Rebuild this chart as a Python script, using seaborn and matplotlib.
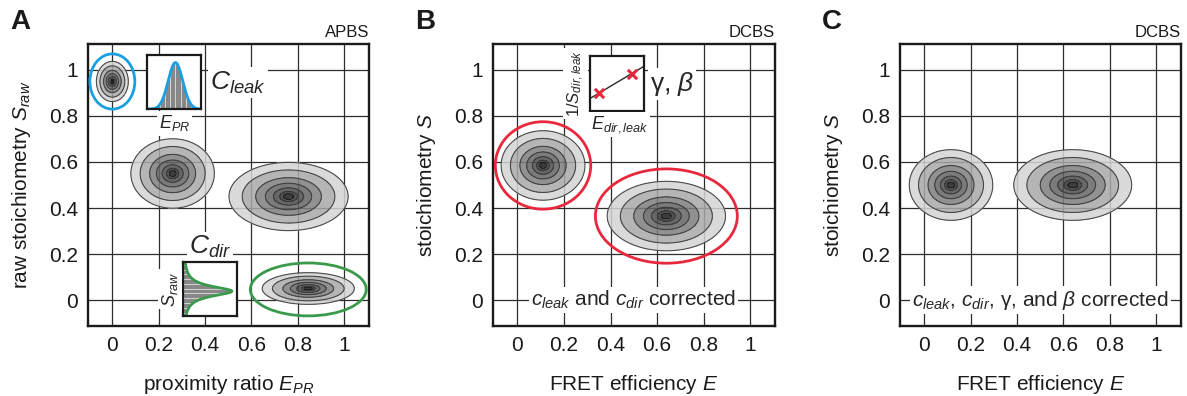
import numpy as np
import matplotlib
matplotlib.use("Agg")
import matplotlib.pyplot as plt
from matplotlib.patches import Ellipse
import seaborn as sns

sns.set_theme(style="white")
plt.rcParams["font.family"] = ["Liberation Sans", "DejaVu Sans"]
plt.rcParams["mathtext.fontset"] = "custom"
plt.rcParams["mathtext.rm"] = "Liberation Sans"
plt.rcParams["mathtext.it"] = "Liberation Sans:italic"
plt.rcParams["mathtext.bf"] = "Liberation Sans:bold"

# ---- populations: centre (E, S) and width (sigma_E, sigma_S) ----
apbs_E = [0.0, 0.26, 0.76, 0.845]
apbs_S = [0.95, 0.55, 0.45, 0.05]
apbs_sE = [0.026, 0.068, 0.097, 0.075]
apbs_sS = [0.033, 0.057, 0.056, 0.026]

dcbs_E = [0.11, 0.64]
dcbs_S = [0.585, 0.365]
dcbs_sE = [0.068, 0.096]
dcbs_sS = [0.057, 0.057]

corr_E = [0.115, 0.64]
corr_S = [0.50, 0.50]
corr_sE = [0.068, 0.096]
corr_sS = [0.058, 0.058]

# highlighted populations (centre and half-axes of the outline)
ringA_E = [0.0, 0.845]
ringA_S = [0.95, 0.046]
ringA_a = [0.097, 0.25]
ringA_b = [0.12, 0.115]
ringA_col = ["#1a9fe0", "#3a9a4c"]

ringB_E = [0.11, 0.64]
ringB_S = [0.585, 0.365]
ringB_a = [0.205, 0.305]
ringB_b = [0.19, 0.205]
ringB_col = ["#e8283c", "#e8283c"]

# gamma/beta calibration points: E_dir,leak vs 1/S_dir,leak
cal_E = [0.17, 0.78]
cal_invS = [0.32, 0.68]

tick_vals = [0, 0.2, 0.4, 0.6, 0.8, 1.0]
tick_text = ["0", "0.2", "0.4", "0.6", "0.8", "1"]

LEVELS = [0.03, 0.12, 0.345, 0.59, 0.80, 0.925, 0.976, 1.01]
SHADES = ["#d4d4d4", "#a8a8a8", "#7e7e7e", "#646464", "#4c4c4c", "#343434", "#1a1a1a"]

TICK_FS = 15
LABEL_FS = 15


def draw_population(ax, e0, s0, se, ss):
    x = np.linspace(e0 - 3.2 * se, e0 + 3.2 * se, 240)
    y = np.linspace(s0 - 3.2 * ss, s0 + 3.2 * ss, 240)
    X, Y = np.meshgrid(x, y)
    Z = np.exp(-0.5 * (((X - e0) / se) ** 2 + ((Y - s0) / ss) ** 2))
    ax.contourf(X, Y, Z, levels=LEVELS, colors=SHADES, alpha=0.85, zorder=3)
    ax.contour(X, Y, Z, levels=LEVELS[:-2], colors="#3b3b3b",
               linewidths=0.8, alpha=0.9, zorder=4)


def style_axes(ax, xlabel, ylabel, tag):
    ax.set_xlim(-0.105, 1.107)
    ax.set_ylim(-0.113, 1.113)
    ax.set_xticks(tick_vals)
    ax.set_xticklabels(tick_text)
    ax.set_yticks(tick_vals)
    ax.set_yticklabels(tick_text)
    ax.tick_params(length=0, pad=7, labelsize=TICK_FS, colors="#1a1a1a")
    ax.grid(True, color="#2e2e2e", lw=0.9)
    ax.set_axisbelow(True)
    for sp in ax.spines.values():
        sp.set_visible(True)
        sp.set_color("#1a1a1a")
        sp.set_linewidth(1.7)
    ax.set_xlabel(xlabel, fontsize=LABEL_FS, color="#1a1a1a")
    ax.set_ylabel(ylabel, fontsize=LABEL_FS, color="#1a1a1a")
    ax.xaxis.set_label_coords(0.5, -0.165)
    ax.yaxis.set_label_coords(-0.195, 0.5)
    ax.text(1.0, 1.015, tag, transform=ax.transAxes, ha="right", va="bottom",
            fontsize=12, color="#1a1a1a")


def frame_inset(ins):
    ins.set_xlim(0, 1)
    ins.set_ylim(0, 1)
    ins.set_xticks([])
    ins.set_yticks([])
    ins.set_facecolor("white")
    for sp in ins.spines.values():
        sp.set_visible(True)
        sp.set_color("#1a1a1a")
        sp.set_linewidth(1.6)


WHITE = dict(facecolor="white", edgecolor="none", pad=1.5)

fig = plt.figure(figsize=(11.87, 3.96), dpi=100)
W, H = 1187, 396
axA = fig.add_axes([88 / W, 70 / H, 281 / W, 282 / H])
axB = fig.add_axes([493 / W, 70 / H, 282 / W, 282 / H])
axC = fig.add_axes([900 / W, 70 / H, 281 / W, 282 / H])

# ---------------- panel A ----------------
style_axes(axA, "proximity ratio $E_{PR}$", "raw stoichiometry $S_{raw}$", "APBS")
for e, s, se, ss in zip(apbs_E, apbs_S, apbs_sE, apbs_sS):
    draw_population(axA, e, s, se, ss)
for e, s, a, b, c in zip(ringA_E, ringA_S, ringA_a, ringA_b, ringA_col):
    axA.add_patch(Ellipse((e, s), 2 * a, 2 * b, fill=False, ec=c, lw=2.0, zorder=5))

# leakage inset: E_PR histogram of the donor-only population
insA1 = axA.inset_axes([0.151, 0.83, 0.233, 0.235], transform=axA.transData, zorder=6)
frame_inset(insA1)
xc = np.linspace(0.0, 1.0, 200)
yc = 0.86 * np.exp(-0.5 * ((xc - 0.52) / 0.135) ** 2)
insA1.fill_between(xc, 0, yc, color="#d2d2d2", lw=0)
xb = np.linspace(0.04, 0.98, 42)
insA1.vlines(xb, 0, 0.86 * np.exp(-0.5 * ((xb - 0.52) / 0.135) ** 2),
             color="#7a7a7a", lw=0.6)
sns.lineplot(x=xc, y=yc, ax=insA1, color="#1a9fe0", lw=2.0)
insA1.set_xlim(0, 1)
insA1.set_ylim(0, 1)
insA1.text(0.5, -0.08, "$E_{PR}$", transform=insA1.transAxes, ha="center",
           va="top", fontsize=13, bbox=WHITE)
axA.text(0.54, 0.945, "$C_{leak}$", ha="center", va="center", fontsize=19,
         bbox=WHITE, zorder=6)

# direct-excitation inset: S_raw histogram of the acceptor-only population
insA2 = axA.inset_axes([0.306, -0.07, 0.233, 0.235], transform=axA.transData, zorder=6)
frame_inset(insA2)
ys = np.linspace(0.0, 1.0, 200)
xs = 0.9 / (1 + ((ys - 0.46) / 0.11) ** 2)
insA2.fill_betweenx(ys, 0, xs, color="#d2d2d2", lw=0)
yb = np.linspace(0.02, 0.98, 42)
insA2.hlines(yb, 0, 0.9 / (1 + ((yb - 0.46) / 0.11) ** 2), color="#7a7a7a", lw=0.6)
insA2.plot(xs, ys, color="#3a9a4c", lw=2.0)
insA2.set_xlim(0, 1)
insA2.set_ylim(0, 1)
insA2.text(-0.06, 0.5, "$S_{raw}$", transform=insA2.transAxes, ha="right",
           va="center", rotation=90, fontsize=13, bbox=WHITE)
axA.text(0.42, 0.23, "$C_{dir}$", ha="center", va="center", fontsize=19,
         bbox=WHITE, zorder=6)

# ---------------- panel B ----------------
style_axes(axB, "FRET efficiency $E$", "stoichiometry $S$", "DCBS")
for e, s, se, ss in zip(dcbs_E, dcbs_S, dcbs_sE, dcbs_sS):
    draw_population(axB, e, s, se, ss)
for e, s, a, b, c in zip(ringB_E, ringB_S, ringB_a, ringB_b, ringB_col):
    axB.add_patch(Ellipse((e, s), 2 * a, 2 * b, fill=False, ec=c, lw=2.0, zorder=5))

insB = axB.inset_axes([0.31, 0.823, 0.232, 0.237], transform=axB.transData, zorder=6)
frame_inset(insB)
slope, icpt = np.polyfit(cal_E, cal_invS, 1)
xl = np.array([0.0, 1.0])
sns.lineplot(x=xl, y=slope * xl + icpt, ax=insB, color="#2a2a2a", lw=1.0)
sns.scatterplot(x=cal_E, y=cal_invS, ax=insB, marker="x", color="#e8283c",
                s=45, linewidth=2.2, zorder=5)
insB.set_xlim(0, 1)
insB.set_ylim(0, 1)
insB.text(-0.07, 0.5, "1/$S_{dir,leak}$", transform=insB.transAxes, ha="right",
          va="center", rotation=90, fontsize=12, bbox=WHITE)
insB.text(0.55, -0.06, "$E_{dir,leak}$", transform=insB.transAxes, ha="center",
          va="top", fontsize=13, bbox=WHITE)
axB.text(0.665, 0.94, "γ, $β$", ha="center", va="center", fontsize=19,
         bbox=WHITE, zorder=6)
axB.text(0.5, 0.0, "$c_{leak}$ and $c_{dir}$ corrected", ha="center", va="center",
         fontsize=15, bbox=WHITE, zorder=6)

# ---------------- panel C ----------------
style_axes(axC, "FRET efficiency $E$", "stoichiometry $S$", "DCBS")
for e, s, se, ss in zip(corr_E, corr_S, corr_sE, corr_sS):
    draw_population(axC, e, s, se, ss)
axC.text(0.5, 0.0, "$c_{leak}$, $c_{dir}$, γ, and $β$ corrected", ha="center",
         va="center", fontsize=15, bbox=WHITE, zorder=6)

# panel letters
for lbl, px in zip(["A", "B", "C"], [20, 425, 832]):
    fig.text(px / W, 1 - 22 / H, lbl, ha="center", va="center", fontsize=20,
             fontweight="bold", color="#1a1a1a")

fig.savefig("out.png", dpi=100, facecolor="white")
